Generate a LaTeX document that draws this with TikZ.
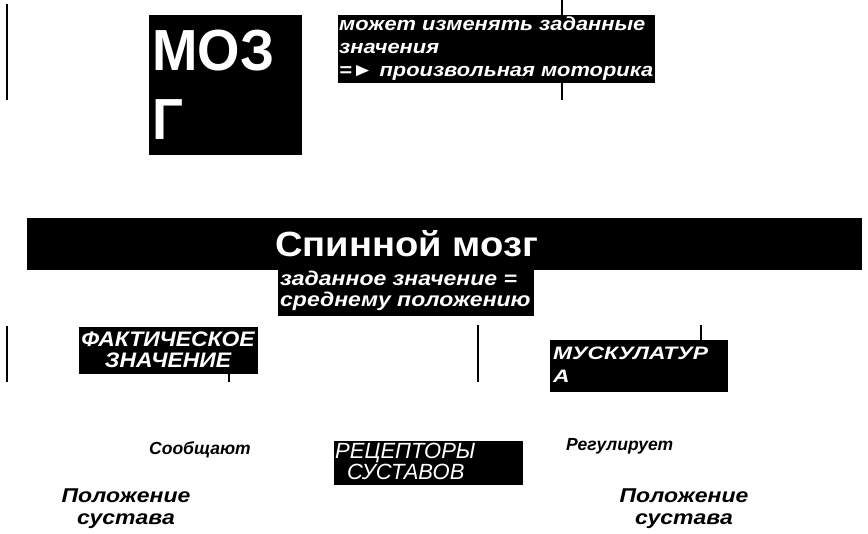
\documentclass[tikz,border=0pt]{standalone}
\usepackage{fontspec}
\setmainfont{Liberation Sans}
\newfontfamily\widefont[FakeStretch=1.27]{Liberation Sans}
\newfontfamily\stretchfont[FakeStretch=1.15]{Liberation Sans}
\newfontfamily\titlefont[FakeStretch=1.09]{Liberation Sans}
\newfontfamily\narrowfont[FakeStretch=0.94]{Liberation Sans}
\usepackage{tikz}
\usetikzlibrary{positioning, calc}
\tikzstyle{blackbox} = [fill=black, text=white, inner sep=0pt, anchor=north west]
\tikzstyle{boxtext} = [text=white, inner sep=0pt, anchor=base west, align=left]
\tikzstyle{plaintext} = [inner sep=0pt, anchor=base west]
\tikzstyle{vline} = [line width=1.3pt]

\begin{document}
\begin{tikzpicture}[x=1pt, y=-1pt]
    \useasboundingbox (0,0) rectangle (868,534);

    % thin vertical strokes
    \coordinate (la1) at (7,4);     \coordinate (la2) at (7,100);
    \coordinate (lb1) at (562,0);   \coordinate (lb2) at (562,100);
    \coordinate (lc1) at (7,326);   \coordinate (lc2) at (7,382);
    \coordinate (ld1) at (229,327); \coordinate (ld2) at (229,382);
    \coordinate (le1) at (478,325); \coordinate (le2) at (478,382);
    \coordinate (lf1) at (701,325); \coordinate (lf2) at (701,340);
    \foreach \l in {la,lb,lc,ld,le,lf}
        \draw[vline] (\l1) -- (\l2);

    % black boxes
    \node[blackbox, minimum width=153, minimum height=140] (mozg) at (149,15) {};
    \node[blackbox, minimum width=317, minimum height=68] (note) at (338,15) {};
    \node[blackbox, minimum width=835, minimum height=52] (spinal) at (27,218) {};
    \node[blackbox, minimum width=256, minimum height=46] (setval) at (278,270) {};
    \node[blackbox, minimum width=179, minimum height=47] (actual) at (79,327) {};
    \node[blackbox, minimum width=178, minimum height=52] (muscle) at (550,340) {};
    \node[blackbox, minimum width=189, minimum height=44] (recept) at (334,441) {};

    % texts in the boxes (anchored on the last line)
    \node[boxtext, font=\fontsize{58}{69}\selectfont\narrowfont\bfseries] (mozg-t) at (152,140) {МОЗ\\Г};
    \node[boxtext, font=\fontsize{19}{23}\selectfont\stretchfont\bfseries\itshape] (note-t) at (339,77)
          {может изменять заданные\\значения\\=► произвольная моторика};
    \node[boxtext, font=\fontsize{35}{40}\selectfont\titlefont\bfseries] (spinal-t) at (275,257) {Спинной мозг};
    \node[boxtext, font=\fontsize{20}{21}\selectfont\stretchfont\bfseries\itshape] (setval-t) at (280,307)
          {заданное значение =\\среднему положению};
    \node[boxtext, anchor=base, align=center, font=\fontsize{21}{21}\selectfont\titlefont\bfseries\itshape] (actual-t) at (168,368)
          {ФАКТИЧЕСКОЕ\\ЗНАЧЕНИЕ};
    \node[boxtext, font=\fontsize{18}{23}\selectfont\widefont\bfseries\itshape] (muscle-t) at (553,383)
          {МУСКУЛАТУР\\А};
    \node[boxtext, font=\fontsize{22}{21}\selectfont\itshape] (recept-t) at (335,480)
          {РЕЦЕПТОРЫ\\\hspace{12pt}СУСТАВОВ};

    % loose words
    \node[plaintext, font=\fontsize{17.5}{18}\selectfont\bfseries\itshape] (tell) at (149,455) {Сообщают};
    \node[plaintext, font=\fontsize{17.5}{18}\selectfont\bfseries\itshape] (rule) at (566,451) {Регулирует};
    \node[plaintext, anchor=base, align=center, font=\fontsize{20}{22}\selectfont\stretchfont\bfseries\itshape] (posl) at (126,525) {Положение\\сустава};
    \node[plaintext, anchor=base, align=center, font=\fontsize{20}{22}\selectfont\stretchfont\bfseries\itshape] (posr) at (684,525) {Положение\\сустава};
\end{tikzpicture}
\end{document}
